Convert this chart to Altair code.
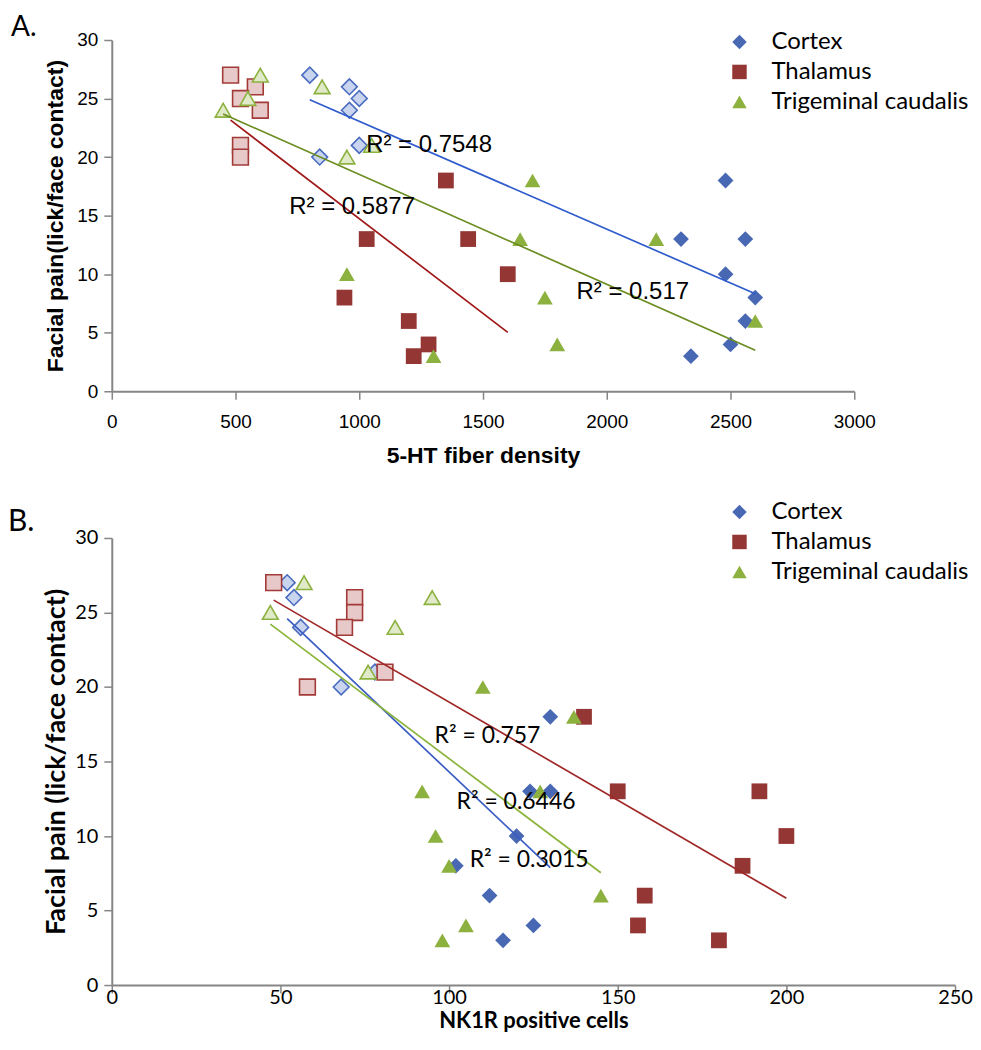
import altair as alt
import pandas as pd

REGIONS = ["Cortex", "Thalamus", "Trigeminal caudalis"]

# ---------- Panel A: 5-HT fiber density vs facial pain ----------
A_CORTEX_LIGHT_X = [800, 960, 1000, 960, 1000, 840]
A_CORTEX_LIGHT_Y = [27, 26, 25, 24, 21, 20]
A_CORTEX_DARK_X = [2480, 2300, 2560, 2480, 2600, 2560, 2500, 2340]
A_CORTEX_DARK_Y = [18, 13, 13, 10, 8, 6, 4, 3]

A_THAL_LIGHT_X = [480, 580, 520, 600, 520, 520]
A_THAL_LIGHT_Y = [27, 26, 25, 24, 21, 20]
A_THAL_DARK_X = [1350, 1030, 1440, 1600, 940, 1200, 1280, 1220]
A_THAL_DARK_Y = [18, 13, 13, 10, 8, 6, 4, 3]

A_TRIG_LIGHT_X = [600, 850, 550, 450, 1050, 950]
A_TRIG_LIGHT_Y = [27, 26, 25, 24, 21, 20]
A_TRIG_DARK_X = [1700, 1650, 2200, 950, 1750, 2600, 1800, 1300]
A_TRIG_DARK_Y = [18, 13, 13, 10, 8, 6, 4, 3]

A_R2_TEXT = ["R² = 0.7548", "R² = 0.5877", "R² = 0.517"]
A_R2_X = [1028, 717, 1878]
A_R2_Y = [21.0, 15.7, 8.5]

# ---------- Panel B: NK1R positive cells vs facial pain ----------
B_CORTEX_LIGHT_X = [52, 54, 56, 78, 68]
B_CORTEX_LIGHT_Y = [27, 26, 24, 21, 20]
B_CORTEX_DARK_X = [130, 124, 130, 120, 102, 112, 125, 116]
B_CORTEX_DARK_Y = [18, 13, 13, 10, 8, 6, 4, 3]

B_THAL_LIGHT_X = [48, 72, 72, 69, 81, 58]
B_THAL_LIGHT_Y = [27, 26, 25, 24, 21, 20]
B_THAL_DARK_X = [140, 150, 192, 200, 187, 158, 156, 180]
B_THAL_DARK_Y = [18, 13, 13, 10, 8, 6, 4, 3]

B_TRIG_LIGHT_X = [57, 95, 47, 84, 76]
B_TRIG_LIGHT_Y = [27, 26, 25, 24, 21]
B_TRIG_DARK_X = [110, 137, 92, 127, 96, 100, 145, 105, 98]
B_TRIG_DARK_Y = [20, 18, 13, 13, 10, 8, 6, 4, 3]

B_R2_TEXT = ["R² = 0.757", "R² = 0.6446", "R² = 0.3015"]
B_R2_X = [95.7, 102.2, 106.1]
B_R2_Y = [16.7, 12.3, 8.4]

Y_TICKS = [0, 5, 10, 15, 20, 25, 30]
A_X_TICKS = [0, 500, 1000, 1500, 2000, 2500, 3000]
B_X_TICKS = [0, 50, 100, 150, 200, 250]

# ---------- styles ----------
DARK_FILL = ["#4868b4", "#943634", "#8cb13f"]
LIGHT_FILL = {"Cortex": "#c9d5ee", "Thalamus": "#e8c9c9", "Trigeminal caudalis": "#e0eac8"}
LIGHT_STROKE = {"Cortex": "#4a6cc0", "Thalamus": "#a23a38", "Trigeminal caudalis": "#8cb13f"}
SHAPES = {"Cortex": "diamond", "Thalamus": "square", "Trigeminal caudalis": "triangle-up"}
A_LINE = ["#2f5ccc", "#a01818", "#6b8c20"]
B_LINE = ["#3a5cc4", "#a02828", "#8ab43a"]


def build(groups):
    rows = []
    for region, shade, xs, ys in groups:
        for xv, yv in zip(xs, ys):
            rows.append({"x": xv, "y": yv, "region": region, "shade": shade})
    return pd.DataFrame(rows)


dfA = build([
    ("Cortex", "light", A_CORTEX_LIGHT_X, A_CORTEX_LIGHT_Y),
    ("Cortex", "dark", A_CORTEX_DARK_X, A_CORTEX_DARK_Y),
    ("Thalamus", "light", A_THAL_LIGHT_X, A_THAL_LIGHT_Y),
    ("Thalamus", "dark", A_THAL_DARK_X, A_THAL_DARK_Y),
    ("Trigeminal caudalis", "light", A_TRIG_LIGHT_X, A_TRIG_LIGHT_Y),
    ("Trigeminal caudalis", "dark", A_TRIG_DARK_X, A_TRIG_DARK_Y),
])
dfB = build([
    ("Cortex", "light", B_CORTEX_LIGHT_X, B_CORTEX_LIGHT_Y),
    ("Cortex", "dark", B_CORTEX_DARK_X, B_CORTEX_DARK_Y),
    ("Thalamus", "light", B_THAL_LIGHT_X, B_THAL_LIGHT_Y),
    ("Thalamus", "dark", B_THAL_DARK_X, B_THAL_DARK_Y),
    ("Trigeminal caudalis", "light", B_TRIG_LIGHT_X, B_TRIG_LIGHT_Y),
    ("Trigeminal caudalis", "dark", B_TRIG_DARK_X, B_TRIG_DARK_Y),
])
annA = pd.DataFrame({"x": A_R2_X, "y": A_R2_Y, "t": A_R2_TEXT})
annB = pd.DataFrame({"x": B_R2_X, "y": B_R2_Y, "t": B_R2_TEXT})


def panel(df, ann, x_domain, x_ticks, x_title, y_title, width, height,
          font, tick_size, x_title_size, y_title_size, ann_size, line_colors, legend_y,
          panel_label, label_size, label_x, label_y, x_label_pad, x_title_pad, y_title_pad):
    X = alt.X("x:Q", scale=alt.Scale(domain=x_domain, nice=False),
              axis=alt.Axis(values=x_ticks, title=x_title, format="d", labelFont=font,
                            labelFontSize=tick_size, titleFont=font,
                            titleFontSize=x_title_size, titleFontWeight="bold",
                            labelPadding=x_label_pad, titlePadding=x_title_pad,
                            labelFlush=False))
    Y = alt.Y("y:Q", scale=alt.Scale(domain=[0, 30], nice=False),
              axis=alt.Axis(values=Y_TICKS, title=y_title, labelFont=font,
                            labelFontSize=tick_size, titleFont=font,
                            titleFontSize=y_title_size, titleFontWeight="bold",
                            labelPadding=6, titlePadding=y_title_pad))
    base = alt.Chart(df)
    layers = []
    for r in REGIONS:
        layers.append(
            base.transform_filter((alt.datum.region == r) & (alt.datum.shade == "light"))
            .mark_point(shape=SHAPES[r], size=250, fill=LIGHT_FILL[r], fillOpacity=1,
                        stroke=LIGHT_STROKE[r], strokeWidth=1.6, opacity=1)
            .encode(x=X, y=Y)
        )
    legend = alt.Legend(title=None, orient="none", legendX=617, legendY=legend_y,
                        labelFont="Lato", labelFontSize=24, symbolSize=210,
                        symbolStrokeWidth=0, rowPadding=6, labelOffset=20,
                        padding=0, labelColor="black", labelLimit=0)
    dark = (base.transform_filter(alt.datum.shade == "dark")
            .mark_point(filled=True, size=250, opacity=1, strokeWidth=0)
            .encode(x=X, y=Y,
                    shape=alt.Shape("region:N", scale=alt.Scale(domain=REGIONS, range=[SHAPES[r] for r in REGIONS]), legend=legend),
                    fill=alt.Fill("region:N", scale=alt.Scale(domain=REGIONS, range=DARK_FILL), legend=legend)))
    layers.append(dark)
    lines = (base.transform_regression("x", "y", groupby=["region"])
             .mark_line(strokeWidth=1.7)
             .encode(x=X, y=Y,
                     stroke=alt.Stroke("region:N", scale=alt.Scale(domain=REGIONS, range=line_colors), legend=None)))
    layers.append(lines)
    texts = (alt.Chart(ann).mark_text(align="left", baseline="middle", font=font,
                                       fontSize=ann_size, color="black")
             .encode(x=X, y=Y, text="t:N"))
    layers.append(texts)
    plabel = (alt.Chart(pd.DataFrame({"t": [panel_label]}))
              .mark_text(align="left", baseline="middle", font="Lato", fontSize=label_size, color="black")
              .encode(x=alt.value(label_x), y=alt.value(label_y), text="t:N"))
    layers.append(plabel)
    return alt.layer(*layers).properties(width=width, height=height)


chartA = panel(dfA, annA, [0, 3000], A_X_TICKS, "5-HT fiber density",
               "Facial pain(lick/face contact)", 744, 352, "Liberation Sans", 19, 23, 23, 24,
               A_LINE, -10, "A.", 28, -101, -12, 13, 13, 9)
chartB = panel(dfB, annB, [0, 250], B_X_TICKS, "NK1R positive cells",
               "Facial pain (lick/face contact)", 845, 448, "Lato", 20, 22, 27, 23,
               B_LINE, -38, "B.", 30, -104, -16, -6, 4, 4)

chart = (alt.VConcatChart(vconcat=[chartA, chartB], spacing=147, bounds="flush")
         .resolve_scale(shape="independent", fill="independent", stroke="independent")
         .resolve_legend(shape="independent", fill="independent")
         .properties(padding={"left": 0, "top": 5, "right": 0, "bottom": 2})
         .configure_view(stroke=None)
         .configure_axis(grid=False, domainColor="#868686", domainWidth=2,
                         tickColor="#868686", tickWidth=1.5, tickSize=8,
                         labelColor="black", titleColor="black"))

chart.save("out.html", embed_options={"renderer": "svg", "actions": False})
